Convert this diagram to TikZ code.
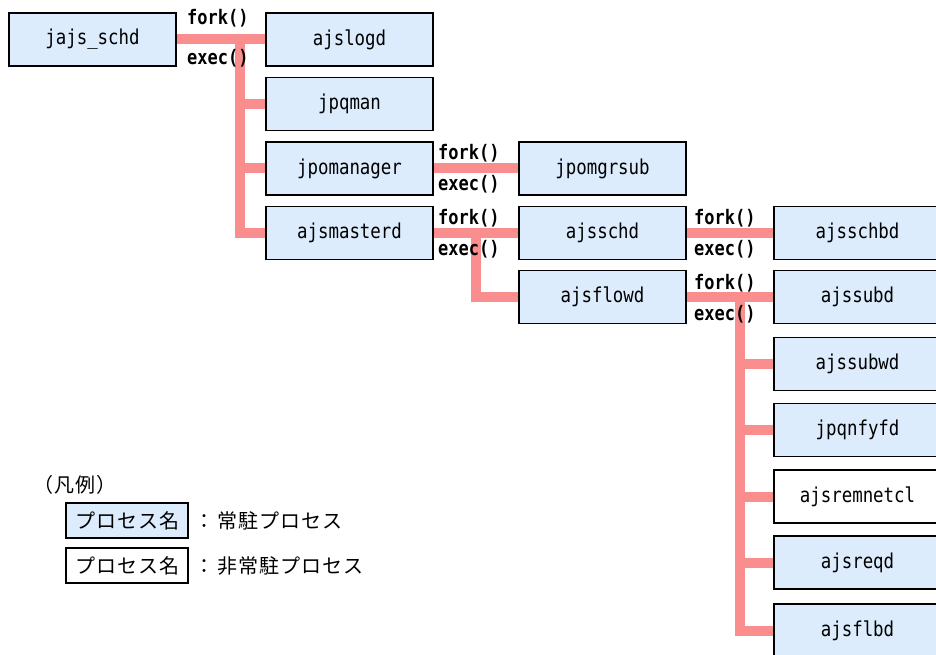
\documentclass[tikz,border=0pt]{standalone}
\usepackage{fontspec}
\setmainfont{Noto Sans CJK JP}[LetterSpace=5]
\newfontfamily\monof[FakeStretch=0.85]{DejaVu Sans Mono}
\definecolor{pinkline}{RGB}{250,142,142}
\definecolor{boxfill}{RGB}{220,236,252}
\tikzset{
  proc/.style={draw=black, line width=1.5pt, fill=boxfill, minimum width=167pt, minimum height=53pt, inner sep=0pt, font=\monof\fontsize{20.5}{24}\selectfont},
  nproc/.style={proc, fill=white},
  conn/.style={draw=pinkline, line width=10pt, line join=miter},
  call/.style={anchor=west, inner sep=0pt, font=\monof\bfseries\fontsize{20}{24}\selectfont},
  legbox/.style={draw=black, line width=1.5pt, minimum width=122pt, minimum height=35pt, inner sep=0pt, font=\fontsize{20}{24}\selectfont},
  legtext/.style={anchor=west, inner sep=0pt, font=\fontsize{20}{24}\selectfont}
}
\begin{document}
\begin{tikzpicture}[x=1pt,y=-1pt]
\useasboundingbox (0,0) rectangle (936,655);
\clip (0,0) rectangle (936,655);
\fill[white] (0,0) rectangle (936,655);
% process positions
\coordinate (pjajs) at (92.5,39.5);
\coordinate (pajslogd) at (349.5,39.5);
\coordinate (pjpqman) at (349.5,104);
\coordinate (pjpomanager) at (349.5,168.5);
\coordinate (pajsmasterd) at (349.5,233);
\coordinate (pjpomgrsub) at (602.5,168.5);
\coordinate (pajsschd) at (602.5,233);
\coordinate (pajsflowd) at (602.5,297);
\coordinate (pajsschbd) at (857.5,233);
\coordinate (pajssubd) at (857.5,297);
\coordinate (pajssubwd) at (857.5,364);
\coordinate (pjpqnfyfd) at (857.5,430);
\coordinate (pajsremnetcl) at (857.5,496.5);
\coordinate (pajsreqd) at (857.5,562.5);
\coordinate (pajsflbd) at (857.5,630.5);
% invisible anchors for connectors
\begin{scope}[every node/.style={minimum width=167pt, minimum height=53pt, inner sep=0pt}]
\node (jajs) at (pjajs) {};
\node (ajslogd) at (pajslogd) {};
\node (jpqman) at (pjpqman) {};
\node (jpomanager) at (pjpomanager) {};
\node (ajsmasterd) at (pajsmasterd) {};
\node (jpomgrsub) at (pjpomgrsub) {};
\node (ajsschd) at (pajsschd) {};
\node (ajsflowd) at (pajsflowd) {};
\node (ajsschbd) at (pajsschbd) {};
\node (ajssubd) at (pajssubd) {};
\node (ajssubwd) at (pajssubwd) {};
\node (jpqnfyfd) at (pjpqnfyfd) {};
\node (ajsremnetcl) at (pajsremnetcl) {};
\node (ajsreqd) at (pajsreqd) {};
\node (ajsflbd) at (pajsflbd) {};
\end{scope}
\coordinate (t1) at (240,39.5);
\coordinate (t2) at (476,233);
\coordinate (t3) at (740,297);
% connectors
\draw[conn] (jajs.east) -- (ajslogd.west);
\draw[conn] (t1) |- (ajsmasterd.west);
\draw[conn] (t1 |- jpqman.west) -- (jpqman.west);
\draw[conn] (t1 |- jpomanager.west) -- (jpomanager.west);
\draw[conn] (jpomanager.east) -- (jpomgrsub.west);
\draw[conn] (ajsmasterd.east) -- (ajsschd.west);
\draw[conn] (t2) |- (ajsflowd.west);
\draw[conn] (ajsschd.east) -- (ajsschbd.west);
\draw[conn] (ajsflowd.east) -- (ajssubd.west);
\draw[conn] (t3) |- (ajsflbd.west);
\draw[conn] (t3 |- ajssubwd.west) -- (ajssubwd.west);
\draw[conn] (t3 |- jpqnfyfd.west) -- (jpqnfyfd.west);
\draw[conn] (t3 |- ajsremnetcl.west) -- (ajsremnetcl.west);
\draw[conn] (t3 |- ajsreqd.west) -- (ajsreqd.west);
% visible boxes
\node[proc] (bjajs) at (pjajs) {jajs\_schd};
\node[proc] (bajslogd) at (pajslogd) {ajslogd};
\node[proc] (bjpqman) at (pjpqman) {jpqman};
\node[proc] (bjpomanager) at (pjpomanager) {jpomanager};
\node[proc] (bajsmasterd) at (pajsmasterd) {ajsmasterd};
\node[proc] (bjpomgrsub) at (pjpomgrsub) {jpomgrsub};
\node[proc] (bajsschd) at (pajsschd) {ajsschd};
\node[proc] (bajsflowd) at (pajsflowd) {ajsflowd};
\node[proc] (bajsschbd) at (pajsschbd) {ajsschbd};
\node[proc] (bajssubd) at (pajssubd) {ajssubd};
\node[proc] (bajssubwd) at (pajssubwd) {ajssubwd};
\node[proc] (bjpqnfyfd) at (pjpqnfyfd) {jpqnfyfd};
\node[nproc] (bajsremnetcl) at (pajsremnetcl) {ajsremnetcl};
\node[proc] (bajsreqd) at (pajsreqd) {ajsreqd};
\node[proc] (bajsflbd) at (pajsflbd) {ajsflbd};
% call labels
\node[call] (f1) at (187,18) {fork()};
\node[call] (e1) at (187,58) {exec()};
\node[call] (f2) at (438,153) {fork()};
\node[call] (e2) at (438,184) {exec()};
\node[call] (f3) at (438,218) {fork()};
\node[call] (e3) at (438,249) {exec()};
\node[call] (f4) at (694,218) {fork()};
\node[call] (e4) at (694,249) {exec()};
\node[call] (f5) at (694,283) {fork()};
\node[call] (e5) at (694,314) {exec()};
% legend
\node[legtext] (leg) at (33,485) {（凡例）};
\node[legbox, fill=boxfill] (lb1) at (127,520.5) {プロセス名};
\node[legbox, fill=white] (lb2) at (127,565.5) {プロセス名};
\node[legtext] (lt1) at (194,520.5) {：\hspace{3pt}常駐プロセス};
\node[legtext] (lt2) at (194,565.5) {：\hspace{3pt}非常駐プロセス};
\end{tikzpicture}
\end{document}
